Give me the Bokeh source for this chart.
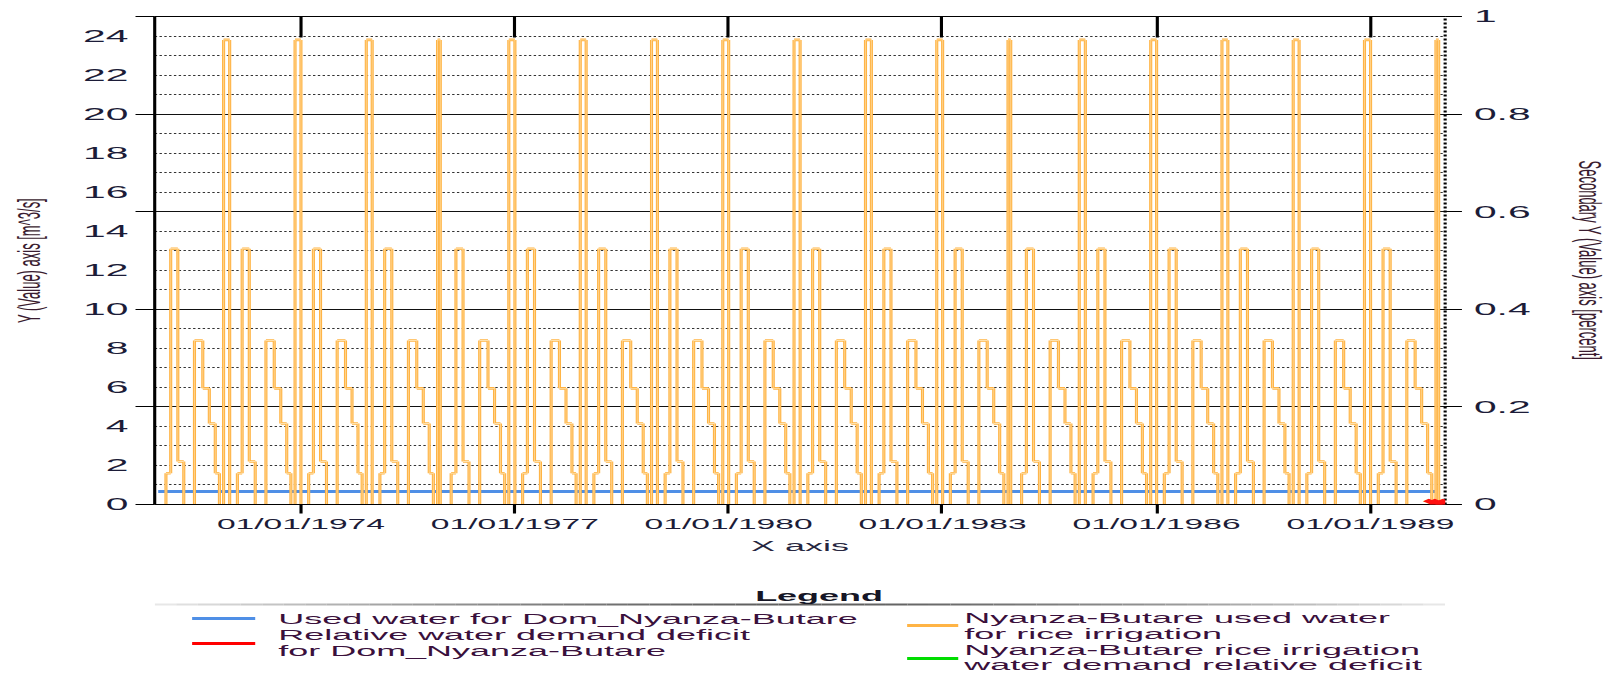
import calendar
from datetime import datetime

from bokeh.plotting import figure
from bokeh.models import (Range1d, LinearAxis, DatetimeAxis, FixedTicker, Grid,
                          DatetimeTickFormatter, NumeralTickFormatter, ColumnDataSource,
                          InlineStyleSheet, LabelSet)
from bokeh.layouts import column
from bokeh.core.properties import value
from bokeh.embed import file_html
from bokeh.resources import INLINE

# ------------------------------------------------------------------ data
YEARS = list(range(1972, 1990))
# annual profile of "Nyanza-Butare used water for rice irrigation" [m^3/s]
# (month offset from 1 January at which each level starts, level)
PROFILE_MONTH = [0.0, 1.3, 2.1, 3.3, 4.3, 6.1, 7.5, 8.6, 9.6, 10.3, 11.0]
PROFILE_VALUE = [0.0, 1.6, 13.1, 2.2, 0.0, 8.4, 5.95, 4.15, 1.6, 0.0, 23.8]
SHORT_PEAK_YEARS = [1975, 1983, 1989]     # December peak lasts only ~2 weeks
SHORT_PEAK_DAYS = 14

DOM_DATES = [datetime(1972, 1, 1), datetime(1989, 12, 1)]
DOM_USED = [0.67, 0.67]                    # Used water for Dom_Nyanza-Butare
DEFICIT_DATES = [datetime(1989, 12, 1), datetime(1990, 1, 1)]
DEFICIT = [0.0, 0.0]                       # relative deficit (secondary axis)

X_TICK_YEARS = [1974, 1977, 1980, 1983, 1986, 1989]
LEFT_TICKS = [0, 2, 4, 6, 8, 10, 12, 14, 16, 18, 20, 22, 24]
LEFT_EDGE_MARKS = [0, 5, 10, 15, 20, 25]
SOLID_LEVELS = [5, 10, 15, 20]
DASHED_LEVELS = [1, 2, 3, 4, 6, 7, 8, 9, 11, 12, 13, 14, 16, 17, 18, 19, 21, 22, 23, 24]
RIGHT_TICKS = [0, 0.2, 0.4, 0.6, 0.8, 1.0]

LEGEND_LEFT = ["Used water for Dom_Nyanza-Butare",
               "Relative water demand deficit\nfor Dom_Nyanza-Butare"]
LEGEND_RIGHT = ["Nyanza-Butare used water\nfor rice irrigation",
                "Nyanza-Butare rice irrigation\nwater demand relative deficit"]

# ------------------------------------------------------------------ helpers
DAY_MS = 86400000.0
MONTH_MS = 30.436875 * DAY_MS


def ms(dt):
    return calendar.timegm(dt.timetuple()) * 1000.0


t, v = [], []
for yr in YEARS:
    base = ms(datetime(yr, 1, 1))
    for m, val in zip(PROFILE_MONTH, PROFILE_VALUE):
        t.append(base + m * MONTH_MS)
        v.append(val)
    if yr in SHORT_PEAK_YEARS:
        t.append(base + PROFILE_MONTH[-1] * MONTH_MS + SHORT_PEAK_DAYS * DAY_MS)
        v.append(0.0)
t_end = ms(datetime(YEARS[-1] + 1, 1, 1))

hx0, hx1, hy = [], [], []
vx, vy0, vy1 = [], [], []
for i in range(len(t)):
    nxt = t[i + 1] if i + 1 < len(t) else t_end
    if v[i] != 0:
        hx0.append(t[i]); hx1.append(nxt); hy.append(v[i])
    if i + 1 < len(t) and v[i] != v[i + 1]:
        vx.append(t[i + 1]); vy0.append(v[i]); vy1.append(v[i + 1])

# The reference picture is a horizontally stretched chart: draw it at its
# natural width and stretch it with CSS.  Bokeh lays the canvas out from the
# (stretched) box it measures, so the CSS box is W / S wide.
W = 674
CSS_W = 281
S = W / CSS_W
H, LH = 580, 94
BL, BR = 64, 72                     # frame spans 64 .. 602 (unstretched px)
FONT_NAME = "Liberation Sans"
FONT = value(FONT_NAME)
TICK_COLOR = "#1c1c38"
LABEL_COLOR = "#3a1c30"
ORANGE = "#FFB445"
ORANGE_PALE = "#FFE2AE"
BLUE = "#4F8FE6"
STRETCH = InlineStyleSheet(css=":host { transform: scaleX(%.5f); transform-origin: 0 0; }" % S)

# ------------------------------------------------------------------ main figure
p = figure(width=CSS_W, height=H, sizing_mode="fixed",
           x_range=Range1d(ms(datetime(1971, 12, 14)), ms(datetime(1990, 1, 18))),
           y_range=Range1d(0, 25), x_axis_type="datetime",
           output_backend="svg", toolbar_location=None,
           min_border_left=BL, min_border_right=BR, min_border_top=16, min_border_bottom=76,
           outline_line_color=None, background_fill_color="white", border_fill_color="white")
p.grid.visible = False
p.extra_y_ranges = {"pct": Range1d(0, 1)}

p.add_layout(Grid(dimension=1, ticker=FixedTicker(ticks=DASHED_LEVELS),
                  grid_line_color="#333333", grid_line_dash="1 1", grid_line_width=1))
p.add_layout(Grid(dimension=1, ticker=FixedTicker(ticks=SOLID_LEVELS),
                  grid_line_color="#111111", grid_line_width=1))

xticks = [ms(datetime(y, 1, 1)) for y in X_TICK_YEARS]
fmt = "%m/%d/%Y"
xa = p.xaxis[0]
xa.ticker = FixedTicker(ticks=xticks)
xa.formatter = DatetimeTickFormatter(years=fmt, months=fmt, days=fmt, hours=fmt,
                                     minutes=fmt, seconds=fmt, milliseconds=fmt)
xa.major_tick_out = 9
xa.major_tick_in = 0
xa.major_tick_line_width = 1.3
xa.major_tick_line_color = "black"
xa.minor_tick_line_color = None
xa.axis_line_color = "black"
xa.axis_line_width = 1
xa.major_label_standoff = 3
xa.major_label_text_font = FONT_NAME
xa.major_label_text_font_size = "14px"
xa.major_label_text_color = TICK_COLOR
xa.axis_label = "X axis"
xa.axis_label_text_font = FONT_NAME
xa.axis_label_text_font_size = "15px"
xa.axis_label_text_font_style = "normal"
xa.axis_label_text_color = "#262640"
xa.axis_label_standoff = 2

# top border with the year marks pointing into the plot (no labels)
ta = DatetimeAxis(ticker=FixedTicker(ticks=[], minor_ticks=xticks),
                  major_tick_line_color=None, minor_tick_in=21, minor_tick_out=0,
                  minor_tick_line_width=1.3, minor_tick_line_color="black",
                  axis_line_color="black", axis_line_width=1)
p.add_layout(ta, "above")

ya = p.yaxis[0]
ya.ticker = FixedTicker(ticks=LEFT_TICKS, minor_ticks=LEFT_EDGE_MARKS)
ya.major_tick_out = 0
ya.major_tick_in = 0
ya.minor_tick_out = 8
ya.minor_tick_in = 0
ya.minor_tick_line_color = "black"
ya.minor_tick_line_width = 1
ya.axis_line_color = "black"
ya.axis_line_width = 1.3
ya.major_label_standoff = 3
ya.major_label_text_font = FONT_NAME
ya.major_label_text_font_size = "17px"
ya.major_label_text_color = TICK_COLOR
ya.axis_label = "Y (Value) axis [m^3/s]"
ya.axis_label_text_font = FONT_NAME
ya.axis_label_text_font_size = "13px"
ya.axis_label_text_font_style = "normal"
ya.axis_label_text_color = LABEL_COLOR
ya.axis_label_standoff = 12

ra = LinearAxis(y_range_name="pct", ticker=FixedTicker(ticks=RIGHT_TICKS, minor_ticks=[]),
                formatter=NumeralTickFormatter(format="0.[0]"))
ra.major_tick_out = 7
ra.major_tick_in = 0
ra.major_tick_line_color = "black"
ra.minor_tick_line_color = None
ra.axis_line_color = "black"
ra.axis_line_width = 1.3
ra.axis_line_dash = "2 2"
ra.major_label_standoff = 5
ra.major_label_text_font = FONT_NAME
ra.major_label_text_font_size = "17px"
ra.major_label_text_color = TICK_COLOR
ra.axis_label = "Secondary Y (Value) axis [percent]"
ra.axis_label_text_font = FONT_NAME
ra.axis_label_text_font_size = "13px"
ra.axis_label_text_font_style = "normal"
ra.axis_label_text_color = LABEL_COLOR
ra.axis_label_standoff = 14
p.add_layout(ra, "right")

# blue: domestic used water
p.line(x=[ms(d) for d in DOM_DATES], y=DOM_USED, line_color=BLUE, line_width=3)

# orange stepped series: horizontal and vertical parts
hsrc = ColumnDataSource(dict(x0=hx0, x1=hx1, y=hy))
vsrc = ColumnDataSource(dict(x=vx, y0=vy0, y1=vy1))
p.segment(x0="x0", x1="x1", y0="y", y1="y", source=hsrc, line_color=ORANGE, line_width=2.6)
p.segment(x0="x", x1="x", y0="y0", y1="y1", source=vsrc, line_color=ORANGE, line_width=1.3)
p.segment(x0="x0", x1="x1", y0="y", y1="y", source=hsrc, line_color=ORANGE_PALE, line_width=0.9)
p.segment(x0="x", x1="x", y0="y0", y1="y1", source=vsrc, line_color=ORANGE_PALE, line_width=0.4)

# red markers: relative deficit (secondary axis)
dsrc = ColumnDataSource(dict(x=[ms(d) for d in DEFICIT_DATES], y=DEFICIT,
                             txt=["\u2716"] * len(DEFICIT)))
p.add_layout(LabelSet(x="x", y="y", text="txt", source=dsrc, y_range_name="pct",
                      text_color="#FF1010", text_font=value("DejaVu Sans"),
                      text_font_size=value("16px"), text_align="center",
                      text_baseline="middle"))

# ------------------------------------------------------------------ legend
# (coordinates in unstretched canvas pixels; the legend frame is aligned
#  with the chart frame by the column layout)
leg = figure(width=CSS_W, height=LH, sizing_mode="fixed",
             x_range=Range1d(BL, W - BR), y_range=Range1d(LH, 0),
             output_backend="svg", toolbar_location=None, min_border=0,
             min_border_left=BL, min_border_right=BR,
             x_axis_location=None, y_axis_location=None, outline_line_color=None,
             background_fill_color="white", border_fill_color="white")
leg.grid.visible = False

# separator under the title: grey gradient, darkest in the middle
n_seg = 60
xs0, xe0 = 64.0, 602.0
cx = (xs0 + xe0) / 2
gx0, gx1, gcol = [], [], []
for k in range(n_seg):
    a = xs0 + (xe0 - xs0) * k / n_seg
    b = xs0 + (xe0 - xs0) * (k + 1) / n_seg
    d = abs((a + b) / 2 - cx) / (cx - xs0)
    g = int(95 + 140 * d ** 1.6)
    gx0.append(a); gx1.append(b); gcol.append("#%02x%02x%02x" % (g, g, g))
leg.segment(x0=gx0, x1=gx1, y0=[24] * n_seg, y1=[24] * n_seg, line_color=gcol, line_width=2)

leg.text(x=[341], y=[15], text=["Legend"], text_font=FONT, text_font_size="15px",
         text_font_style="bold", text_color="#161626", text_align="center",
         text_baseline="middle")

leg.segment(x0=[79.6, 79.6, 377.7, 377.7], x1=[105.9, 105.9, 399, 399],
            y0=[38, 63, 45, 78], y1=[38, 63, 45, 78],
            line_color=[BLUE, "#FF0000", ORANGE, "#00DD00"], line_width=3)

left_lines = [LEGEND_LEFT[0]] + LEGEND_LEFT[1].split("\n")
right_lines = LEGEND_RIGHT[0].split("\n") + LEGEND_RIGHT[1].split("\n")
leg.text(x=[115.5] * 3 + [401.5] * 4, y=[38, 54, 70, 37, 53, 69, 84],
         text=left_lines + right_lines, text_font=FONT, text_font_size="15px",
         text_color="#3a103c", text_align="left", text_baseline="middle")

p.stylesheets = [STRETCH]
leg.stylesheets = [STRETCH]
layout = column(p, leg, spacing=0)

open("out.html", "w").write(file_html(layout, INLINE))
